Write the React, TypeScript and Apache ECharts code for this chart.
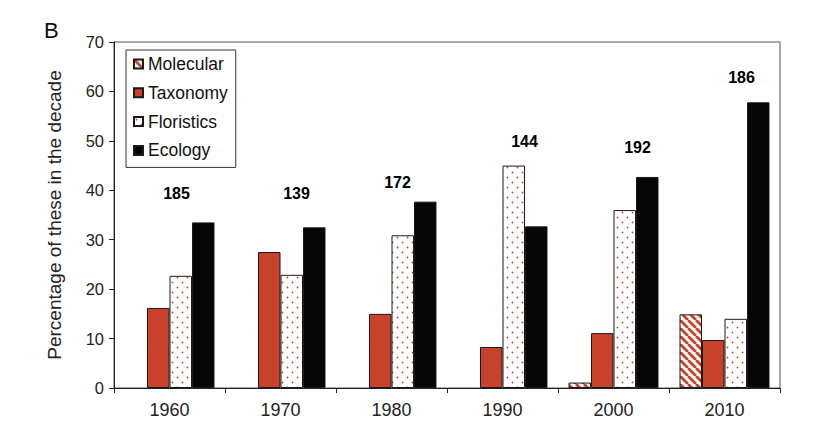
import React, { useEffect, useRef } from "react";
import * as echarts from "echarts";

const decades = ["1960", "1970", "1980", "1990", "2000", "2010"];
const molecular = [0, 0, 0, 0, 1.1, 14.9];
const taxonomy = [16.2, 27.5, 15, 8.3, 11.1, 9.7];
const floristics = [22.7, 22.9, 30.9, 45, 36, 14];
const ecology = [33.5, 32.5, 37.7, 32.7, 42.7, 57.8];
const totals = [185, 139, 172, 144, 192, 186];
const totalLabelLevel = [39.3, 39.3, 41.5, 49.8, 48.6, 62.9];
const totalLabelShift = [7, 16, 6, 22, 24, 17];

const RED = "#c8422b";
const FONT = "'Liberation Sans', Arial, sans-serif";

function stripePattern(): HTMLCanvasElement {
  const c = document.createElement("canvas");
  c.width = 8;
  c.height = 8;
  const ctx = c.getContext("2d")!;
  ctx.fillStyle = "#ffffff";
  ctx.fillRect(0, 0, 8, 8);
  ctx.strokeStyle = RED;
  ctx.lineWidth = 2.8;
  for (const k of [-8, 0, 8]) {
    ctx.beginPath();
    ctx.moveTo(k, 0);
    ctx.lineTo(k + 8, 8);
    ctx.stroke();
  }
  return c;
}

function dotPattern(): HTMLCanvasElement {
  const c = document.createElement("canvas");
  c.width = 10;
  c.height = 10;
  const ctx = c.getContext("2d")!;
  ctx.fillStyle = "#ffffff";
  ctx.fillRect(0, 0, 10, 10);
  ctx.fillStyle = RED;
  ctx.beginPath();
  ctx.arc(2.5, 2.5, 0.9, 0, Math.PI * 2);
  ctx.fill();
  ctx.beginPath();
  ctx.arc(7.5, 7.5, 0.9, 0, Math.PI * 2);
  ctx.fill();
  return c;
}

export default function App() {
  const ref = useRef<HTMLDivElement>(null);
  useEffect(() => {
    document.body.style.margin = "0";
    if (!ref.current) return;
    const chart = echarts.init(ref.current, undefined, { renderer: "svg" });
    const stripes = { image: stripePattern(), repeat: "repeat" };
    const dots = { image: dotPattern(), repeat: "repeat" };
    const barBase = {
      type: "bar",
      barWidth: 22.5,
      barGap: "0%",
      itemStyle: { borderColor: "#1a1a1a", borderWidth: 1 },
    };
    const noZero = (arr: number[]) => arr.map((v) => (v === 0 ? "-" : v));
    chart.setOption({
      animation: false,
      backgroundColor: "#ffffff",
      textStyle: { fontFamily: FONT },
      graphic: [
        {
          type: "text",
          left: 44,
          top: 19,
          style: { text: "B", fontSize: 22, fill: "#111", fontFamily: FONT },
        },
      ],
      grid: {
        left: 114,
        right: 46,
        top: 42,
        bottom: 37,
        show: true,
        borderColor: "#555",
        borderWidth: 1,
      },
      legend: {
        orient: "vertical",
        left: 126,
        top: 50,
        data: ["Molecular", "Taxonomy", "Floristics", "Ecology"],
        backgroundColor: "#ffffff",
        borderColor: "#333",
        borderWidth: 1,
        padding: [5, 8, 8, 7],
        itemWidth: 9,
        itemHeight: 9,
        itemGap: 10.8,
        icon: "rect",
        textStyle: { fontSize: 17.5, color: "#111", fontFamily: FONT, lineHeight: 17.5 },
      },
      xAxis: {
        type: "category",
        data: decades,
        axisLine: { lineStyle: { color: "#222" } },
        axisTick: { show: true, length: 5, lineStyle: { color: "#222" } },
        axisLabel: { fontSize: 18, color: "#222", margin: 13, fontFamily: FONT },
      },
      yAxis: {
        type: "value",
        min: 0,
        max: 70,
        interval: 10,
        name: "Percentage of these in the decade",
        nameLocation: "middle",
        nameGap: 50,
        nameTextStyle: { fontSize: 19, color: "#222", fontFamily: FONT },
        splitLine: { show: false },
        axisLine: { show: true, lineStyle: { color: "#222" } },
        axisTick: { show: true, length: 5, lineStyle: { color: "#222" } },
        axisLabel: { fontSize: 16.5, color: "#222", margin: 10, fontFamily: FONT },
      },
      series: [
        {
          ...barBase,
          name: "Molecular",
          data: noZero(molecular),
          itemStyle: { ...barBase.itemStyle, color: stripes },
        },
        {
          ...barBase,
          name: "Taxonomy",
          data: taxonomy,
          itemStyle: { ...barBase.itemStyle, color: RED },
        },
        {
          ...barBase,
          name: "Floristics",
          data: floristics,
          itemStyle: { ...barBase.itemStyle, color: dots },
        },
        {
          ...barBase,
          name: "Ecology",
          data: ecology,
          itemStyle: { ...barBase.itemStyle, color: "#050505" },
        },
        {
          type: "scatter",
          name: "totals",
          symbolSize: 1,
          silent: true,
          itemStyle: { color: "rgba(0,0,0,0)", opacity: 1 },
          data: totals.map((t, i) => ({
            value: [i, totalLabelLevel[i]],
            label: {
              show: true,
              position: "inside",
              offset: [totalLabelShift[i], 0],
              formatter: String(t),
              fontSize: 16,
              fontWeight: "bold",
              color: "#000",
              textBorderWidth: 0,
              fontFamily: FONT,
            },
          })),
        },
      ],
    });
    return () => chart.dispose();
  }, []);
  return <div ref={ref} style={{ width: 826, height: 425 }} />;
}
